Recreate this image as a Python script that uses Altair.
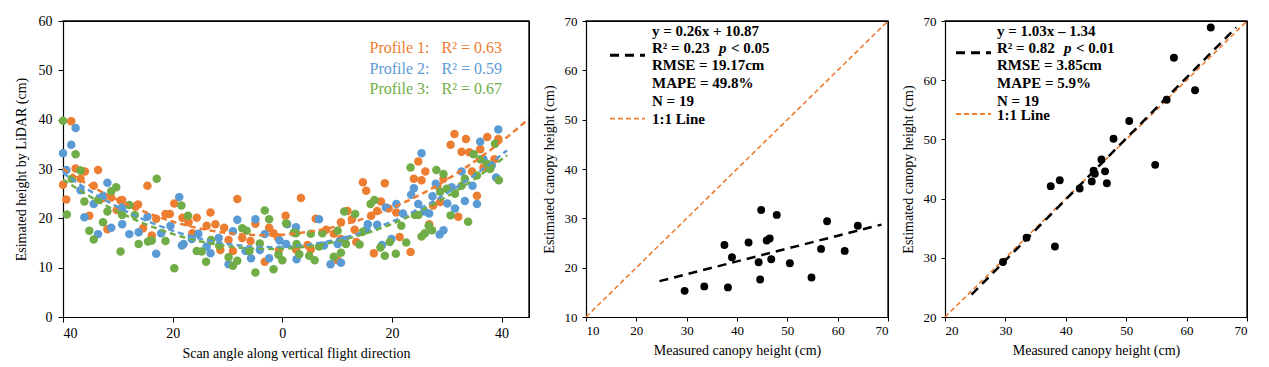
import altair as alt
import pandas as pd

FONT = "Liberation Serif"
ORANGE = "#ED7D31"
BLUE = "#5B9BD5"
GREEN = "#70AD47"

# ---------------- Panel 1: scan angle vs LiDAR height ----------------
prof1_x = [-38.5, -37.7, -36.0, -33.6, -36.8, -40.0, -34.4, -24.6, -39.4, -31.2, -32.7, -29.5, -29.2,
           -26.3, -26.8, -30.2, -23.0, -21.3, -20.5, -19.7, -18.2, -35.2, -31.9, -25.4, -23.8,
           -8.2, -13.1, -15.6, -17.1, -13.8, -12.2, -10.6, -7.3, -5.8, -4.9, -2.4, -1.6, 0.6, -16.4,
           -11.3, -9.8, -9.0, -3.2, -0.6, -0.8,
           3.4, 6.1, 10.7, 8.0, 9.4, 11.9, 12.7, 14.7, 15.3, 18.7, 17.3, 16.2, 18.0, 19.4, 20.8, 24.0,
           23.4, 13.2, 10.7, 2.5, 5.2, 4.6, 10.1, 13.5, 16.7, 21.4,
           31.4, 33.5, 37.4, 39.4, 30.7, 32.7, 34.1, 36.1, 24.8, 26.1, 29.4, 25.4, 28.3, 34.6, 36.7,
           38.7, 35.5, 28.8, 27.5, 32.1, 26.8]
prof1_y = [39.7, 30.1, 29.5, 29.8, 28.0, 26.8, 26.6, 26.6, 23.8, 24.2, 24.1, 23.6, 23.7,
           22.8, 22.4, 21.7, 19.9, 20.9, 20.9, 23.0, 20.1, 20.5, 17.8, 18.0, 16.5,
           23.9, 21.2, 20.1, 19.2, 18.5, 18.8, 18.1, 16.0, 15.4, 18.9, 18.1, 17.0, 20.5, 17.0,
           13.6, 15.6, 13.4, 11.2, 13.6, 16.1,
           24.1, 19.9, 19.2, 17.7, 16.9, 21.5, 19.8, 27.3, 25.6, 27.1, 21.5, 20.5, 23.4, 22.0, 21.2, 28.0,
           13.2, 17.7, 15.8, 13.7, 13.7, 14.6, 11.5, 15.2, 12.9, 16.2,
           37.1, 36.1, 36.5, 36.1, 34.9, 33.5, 33.4, 34.0, 31.5, 29.5, 28.0, 27.7, 26.6, 29.5, 30.3,
           32.0, 24.6, 23.3, 22.6, 20.3, 18.8]

prof2_x = [-37.7, -38.5, -40.0, -39.4, -36.8, -31.9, -34.4, -32.7, -29.2, -24.6, -18.8, -36.1, -29.2,
           -31.2, -33.6, -27.9, -26.2, -22.1, -20.4, -23.0, -18.3,
           -9.0, -8.2, -4.9, -3.2, 0.9, -18.0, -16.5, -13.8, -13.1, -9.8, -6.7, -5.7, -2.4, 0.7,
           -4.1, -11.6, -15.3, -0.5,
           6.7, 2.5, 15.6, 17.3, 15.3, 18.9, 20.8, 22.0, 23.5, 2.6, 7.6, 8.8, 10.7, 10.1, 11.3, 18.2, 19.9,
           39.4, 36.1, 25.4, 28.0, 32.7, 36.7, 38.2, 34.7, 39.0, 30.9, 24.0, 35.5, 33.3, 27.4, 24.8,
           25.9, 26.8, 30.1, 31.5, 28.7, 29.4]
prof2_y = [38.3, 34.9, 33.2, 29.8, 25.7, 27.2, 22.9, 24.6, 22.2, 20.3, 24.3, 20.2, 18.8,
           18.1, 16.8, 16.8, 17.2, 17.0, 18.5, 12.8, 14.5,
           17.4, 19.7, 19.8, 16.8, 18.8, 14.8, 15.8, 14.3, 12.9, 10.7, 13.4, 11.9, 11.9, 14.8,
           13.6, 16.0, 16.9, 15.5,
           19.8, 18.2, 18.8, 18.7, 17.7, 22.2, 22.9, 21.0, 24.8, 11.7, 14.5, 10.7, 11.0, 14.8, 15.6, 14.6, 15.8,
           38.0, 35.5, 33.2, 27.0, 29.5, 32.0, 30.7, 26.6, 28.3, 26.3, 26.1, 22.9, 23.5, 24.5, 22.9,
           21.4, 21.0, 23.0, 22.0, 16.7, 17.6]

prof3_x = [-40.0, -37.7, -36.8, -38.4, -30.3, -31.2, -22.9, -36.1, -33.6, -27.9, -31.9, -26.9, -29.2,
           -18.4, -39.3, -32.7, -35.2, -34.4, -26.2, -24.5, -23.8, -21.3, -29.5, -19.7,
           -17.2, -7.3, -6.5, -3.2, -2.4, 0.7, 2.1, -15.6, -14.7, -13.9, -9.8, -9.0, -8.2, -4.9,
           -6.0, -4.1, -1.6, -0.7, 0.0, -13.0, -11.5,
           2.5, 5.2, 7.3, 10.1, 11.3, 13.3, 16.1, 16.8, 21.7, 23.4, 14.7, 2.6, 3.1, 5.9, 4.9, 6.7,
           9.4, 10.7, 11.6, 14.1, 17.9, 18.7, 19.6, 20.7, 22.6,
           38.8, 34.9, 28.1, 29.4, 36.1, 37.4, 37.9, 35.5, 39.5, 33.3, 32.7, 30.0, 31.5, 28.8,
           24.8, 24.2, 30.7, 33.9, 26.7, 27.3, 26.0, 25.4]
prof3_y = [39.8, 33.0, 29.7, 28.0, 26.3, 25.5, 28.0, 23.4, 23.7, 22.7, 21.4, 20.7, 20.7,
           22.6, 20.8, 19.2, 17.5, 15.7, 14.8, 15.3, 15.5, 15.4, 13.3, 9.9,
           20.5, 18.0, 17.5, 21.6, 19.8, 19.0, 17.1, 13.4, 13.3, 11.2, 12.1, 10.4, 11.4, 9.0,
           13.4, 14.9, 9.7, 12.6, 11.5, 15.6, 14.5,
           17.0, 16.9, 17.0, 17.5, 21.4, 20.9, 22.9, 23.7, 18.5, 30.3, 17.3, 14.8, 12.7, 11.5, 12.4, 14.3,
           12.2, 13.0, 14.8, 14.7, 14.1, 12.4, 15.2, 12.8, 15.1,
           35.1, 33.0, 29.8, 29.0, 32.0, 31.0, 30.0, 28.7, 27.7, 28.0, 26.6, 26.0, 25.0, 25.4,
           20.7, 20.7, 20.6, 19.3, 18.5, 17.6, 17.0, 16.3]

profile_labels = ["Profile 1:\u00a0\u00a0\u00a0R\u00b2 = 0.63",
                  "Profile 2:\u00a0\u00a0\u00a0R\u00b2 = 0.59",
                  "Profile 3:\u00a0\u00a0\u00a0R\u00b2 = 0.67"]
trend_extent_right = [45, 41, 41]

# ---------------- Panels 2 & 3: measured vs estimated ----------------
measured = [29.6, 33.5, 37.5, 38.2, 39.0, 42.3, 44.3, 44.6, 44.8, 45.9, 46.5, 46.8, 47.9, 50.5,
            54.8, 56.7, 57.9, 61.4, 64.0]
estimated_a = [15.3, 16.2, 24.6, 16.0, 22.1, 25.1, 21.1, 17.6, 31.7, 25.5, 25.9, 21.7, 30.7, 20.9,
               18.0, 23.8, 29.4, 23.4, 28.5]
estimated_b = [29.3, 33.4, 42.1, 31.9, 43.1, 41.7, 42.9, 44.7, 44.2, 46.6, 44.6, 42.6, 50.1, 53.1,
               45.7, 56.7, 63.8, 58.3, 68.9]

fit_a = {"slope": 0.26, "intercept": 10.87, "range": [24.6, 68.7]}
fit_b = {"slope": 1.03, "intercept": -1.34, "range": [24.4, 68.2]}

stats_a = ["y = 0.26x + 10.87", "R\u00b2 = 0.23", "< 0.05", "RMSE = 19.17cm", "MAPE = 49.8%", "N = 19", "1:1 Line"]
stats_b = ["y = 1.03x \u2013 1.34", "R\u00b2 = 0.82", "< 0.01", "RMSE = 3.85cm", "MAPE = 5.9%", "N = 19", "1:1 Line"]

W1, W2, H = 466, 302, 296


def txt(s, x, y, size=15, weight="bold", style="normal", color="black", align="left"):
    return alt.Chart(pd.DataFrame({"t": [s]})).mark_text(
        align=align, baseline="middle", font=FONT, fontSize=size, fontWeight=weight,
        fontStyle=style, color=color
    ).encode(x=alt.value(x), y=alt.value(y), text="t:N")


def hrule(x1, x2, y, color, width, dash):
    return alt.Chart(pd.DataFrame({"a": [0]})).mark_rule(
        color=color, strokeWidth=width, strokeDash=dash
    ).encode(x=alt.value(x1), x2=alt.value(x2), y=alt.value(y))


def box_path(xdom, ydom, xf, yf, xs, ys):
    # polyline along the top and right edges of the plot, drawn in data space
    df = pd.DataFrame({xf: [xdom[0], xdom[1], xdom[1]], yf: [ydom[1], ydom[1], ydom[0]],
                       "k": [0, 1, 2]})
    return alt.Chart(df).mark_line(color="#000000", strokeWidth=1.3, strokeCap="square").encode(
        x=alt.X(f"{xf}:Q", scale=xs), y=alt.Y(f"{yf}:Q", scale=ys), order="k:Q")


# Panel 1
X1DOM, Y1DOM = [-40, 45], [0, 60]
xs1 = alt.Scale(domain=X1DOM, nice=False, zero=False)
ys1 = alt.Scale(domain=Y1DOM, nice=False)
ax1x = alt.Axis(values=[-40, -20, 0, 20, 40], labelExpr="abs(datum.value)",
                title="Scan angle along vertical flight direction",
                labelFontSize=14, titleFontSize=14, tickSize=5, labelPadding=4, titlePadding=6)
ax1y = alt.Axis(values=[0, 10, 20, 30, 40, 50, 60], title="Esimated height by LiDAR (cm)",
                labelFontSize=14, titleFontSize=14, tickSize=5, labelPadding=6, titlePadding=10)
layers1 = []
profiles = [(prof1_x, prof1_y, ORANGE), (prof2_x, prof2_y, BLUE), (prof3_x, prof3_y, GREEN)]
for i, (px, py, col) in enumerate(profiles):
    df = pd.DataFrame({"x": px, "y": py})
    pts = alt.Chart(df).mark_circle(size=72, opacity=1, color=col).encode(
        x=alt.X("x:Q", scale=xs1, axis=ax1x),
        y=alt.Y("y:Q", scale=ys1, axis=ax1y),
    )
    layers1.append(pts)
for i, (px, py, col) in enumerate(profiles):
    df = pd.DataFrame({"x": px, "y": py})
    trend = alt.Chart(df).transform_regression(
        "x", "y", method="poly", order=2, extent=[-40, trend_extent_right[i]]
    ).mark_line(color=col, strokeWidth=2.5, strokeDash=[6, 4], clip=True).encode(
        x=alt.X("x:Q", scale=xs1), y=alt.Y("y:Q", scale=ys1))
    layers1.append(trend)
for i, (lab, col) in enumerate(zip(profile_labels, [ORANGE, BLUE, GREEN])):
    layers1.append(txt(lab, 439, 27 + 20.5 * i, size=16, weight="normal", color=col, align="right"))
layers1.append(box_path(X1DOM, Y1DOM, "x", "y", xs1, ys1))
panel1 = alt.layer(*layers1).properties(width=W1, height=H)


def scatter_panel(est, fit, dom, xticks, yticks, stats, tx, px_, pl, leg, last_y):
    xs = alt.Scale(domain=dom, nice=False, zero=False)
    ys = alt.Scale(domain=dom, nice=False, zero=False)
    xax = alt.Axis(values=xticks, title="Measured canopy height (cm)", labelFontSize=13,
                   titleFontSize=14, tickSize=4, labelPadding=3, titlePadding=6)
    yax = alt.Axis(values=yticks, title="Estimated canopy height (cm)", labelFontSize=13,
                   titleFontSize=14, tickSize=4, labelPadding=5, titlePadding=8)
    one = pd.DataFrame({"m": dom, "e": dom})
    l_one = alt.Chart(one).mark_line(color=ORANGE, strokeWidth=1.6, strokeDash=[5, 3]).encode(
        x=alt.X("m:Q", scale=xs, axis=xax), y=alt.Y("e:Q", scale=ys, axis=yax))
    fx = fit["range"]
    fdf = pd.DataFrame({"m": fx, "e": [fit["slope"] * v + fit["intercept"] for v in fx]})
    l_fit = alt.Chart(fdf).mark_line(color="black", strokeWidth=2.5, strokeDash=[9, 6]).encode(
        x=alt.X("m:Q", scale=xs), y=alt.Y("e:Q", scale=ys))
    pdf = pd.DataFrame({"m": measured, "e": est})
    pts = alt.Chart(pdf).mark_circle(size=62, opacity=1, color="black").encode(
        x=alt.X("m:Q", scale=xs), y=alt.Y("e:Q", scale=ys))
    ys_lines = [10.3, 27, 44.3, 62, 79.7]
    texts = [
        txt(stats[0], tx, ys_lines[0]),
        txt(stats[1], tx, ys_lines[1]),
        txt("p", px_, ys_lines[1], style="italic"),
        txt(stats[2], pl, ys_lines[1]),
        txt(stats[3], tx, ys_lines[2]),
        txt(stats[4], tx, ys_lines[3]),
        txt(stats[5], tx, ys_lines[4]),
        txt(stats[6], tx, last_y),
    ]
    legs = [hrule(leg[0], leg[1], leg[2], "black", 3, [9, 6]),
            hrule(leg[0], leg[1], leg[3], ORANGE, 1.8, [5, 3])]
    return alt.layer(l_one, l_fit, pts, *legs, *texts,
                     box_path(dom, dom, "m", "e", xs, ys)).properties(width=W2, height=H)


panel2 = scatter_panel(estimated_a, fit_a, [10, 70], [10, 20, 30, 40, 50, 60, 70],
                       [10, 20, 30, 40, 50, 60, 70], stats_a, 66, 133, 145,
                       (24, 59, 34.3, 97.7), 97.7)
panel3 = scatter_panel(estimated_b, fit_b, [20, 70], [20, 30, 40, 50, 60, 70],
                       [20, 25, 30, 35, 40, 45, 50, 55, 60, 65, 70], stats_b, 52, 119, 131,
                       (11, 46, 31.7, 93), 94)

chart = alt.hconcat(panel1, panel2, panel3, spacing=57, bounds="flush").configure_view(
    stroke="#000000", strokeWidth=1
).configure_axis(
    grid=False, domainColor="black", tickColor="black", labelColor="black", titleColor="black",
    labelFont=FONT, titleFont=FONT, titleFontWeight="normal", domainWidth=1.2, tickWidth=1
).properties(padding={"left": 5, "top": 5, "right": 8, "bottom": 5}, background="white")

chart.save("out.html", embed_options={"renderer": "svg", "actions": False})
